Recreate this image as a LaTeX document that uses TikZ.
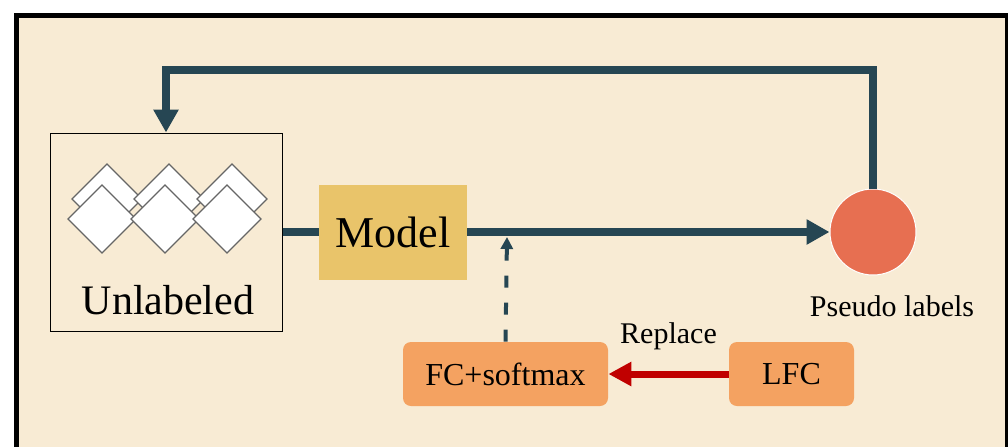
\documentclass[tikz,border=0pt]{standalone}
\usepackage{fontspec}
\setmainfont{Liberation Serif}
\usetikzlibrary{arrows.meta}

\definecolor{bg}{RGB}{248,235,212}
\definecolor{teal}{RGB}{38,70,83}
\definecolor{gold}{RGB}{233,196,106}
\definecolor{sand}{RGB}{244,162,97}
\definecolor{coral}{RGB}{231,111,81}
\definecolor{darkred}{RGB}{192,0,0}

\begin{document}
\begin{tikzpicture}[x=0.5pt,y=-0.5pt,
    flow/.style={teal, line width=4pt, -{Triangle[length=11.5pt,width=12pt]}},
    layer/.style={fill=sand, rounded corners=4pt, inner sep=0pt, minimum height=32pt,
        font=\fontsize{16}{18}\selectfont},
    tile/.style={fill=white, draw=black!60, line width=0.6pt}]
    \useasboundingbox (0,0) rectangle (1008,446);
    \clip (0,0) rectangle (1008,446);
    \draw[line width=2.5pt, fill=bg](16.5,15.5) rectangle (1007,480);
    % unlabeled data
    \node[draw, line width=0.5pt, minimum width=116pt, minimum height=99pt, inner sep=0pt](unl) at (166,232) {};
    \foreach \x in {107,169,232}
        \draw[tile](\x-35,199)--(\x,164)--(\x+35,199)--(\x,234)--cycle;
    \foreach \x in {102,165,227}
        \draw[tile](\x-34,219)--(\x,185)--(\x+34,219)--(\x,253)--cycle;
    \node[font=\fontsize{21}{24}\selectfont](unltxt) at (168,300) {Unlabeled};
    % model and outputs
    \node[fill=gold, minimum width=74pt, minimum height=47.5pt, inner sep=0pt,
        font=\fontsize{22}{24}\selectfont](model) at (393,232) {Model};
    \node[circle, fill=coral, draw=white, line width=0.5pt, minimum size=43pt, inner sep=0pt](circ) at (873,232) {};
    \node[font=\fontsize{15}{17}\selectfont](pl) at (892,306) {Pseudo labels};
    \node[layer, minimum width=102.5pt](fc) at (505.5,374) {FC+softmax};
    \node[layer, minimum width=62.5pt](lfc) at (791.5,374) {LFC};
    \coordinate (top) at (500,70);
    \coordinate (tap) at (507,237);
    \draw[teal, line width=4pt](unl.east)--(model.west);
    \draw[flow](model.east)--(circ.west);
    \draw[flow, line width=4pt](circ.north)|-(top)-|(unl.north);
    \draw[teal, line width=2pt, dash pattern=on 6pt off 7.5pt, -{Triangle[length=6pt,width=6pt]}](fc.north)--(tap);
    \draw[darkred, line width=3.5pt, -{Triangle[length=11.5pt,width=11.5pt]}](lfc.west)--(fc.east)
        node[midway, above=7pt, black, font=\fontsize{15}{17}\selectfont](rep){Replace};
\end{tikzpicture}
\end{document}
